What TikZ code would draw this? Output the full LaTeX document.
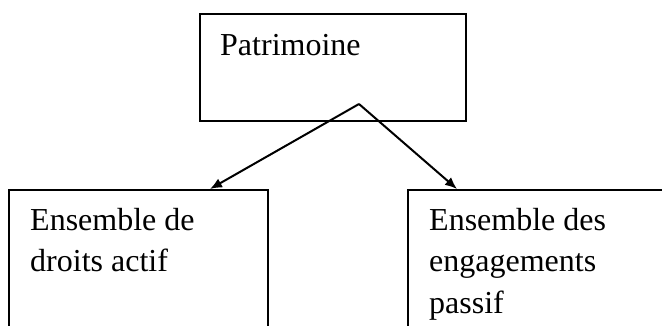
\documentclass[tikz,border=0pt]{standalone}
\usepackage{fontspec}
\setmainfont{Liberation Serif}
\usetikzlibrary{arrows.meta}
\begin{document}
\begin{tikzpicture}[x=1pt,y=1pt,
    box/.style={draw,line width=2pt,inner sep=0pt},
    txt/.style={anchor=base west,inner sep=0pt,align=left,font=\fontsize{32}{41.5}\selectfont},
    fleche/.style={line width=2pt,-{Latex[length=12pt,width=10pt]}}]
\clip (0,0) rectangle (662,-325);
\node[box,minimum width=266pt,minimum height=107pt] (patri) at (333,-67.5) {};
\node[box,minimum width=259pt,minimum height=170pt] (actif) at (138.5,-275) {};
\node[box,minimum width=272pt,minimum height=170pt] (passif) at (544,-275) {};
% base = last line
\node[txt] (lpatri) at (220,-55) {Patrimoine};
\node[txt] (lactif) at (30,-271.5) {Ensemble de\\droits actif};
\node[txt] (lpassif) at (429,-313) {Ensemble des\\engagements\\passif};
\coordinate (sommet) at (359,-104);
\draw[fleche] (sommet) -- ([xshift=202pt]actif.north west);
\draw[fleche] (sommet) -- ([xshift=50pt]passif.north west);
\end{tikzpicture}
\end{document}
